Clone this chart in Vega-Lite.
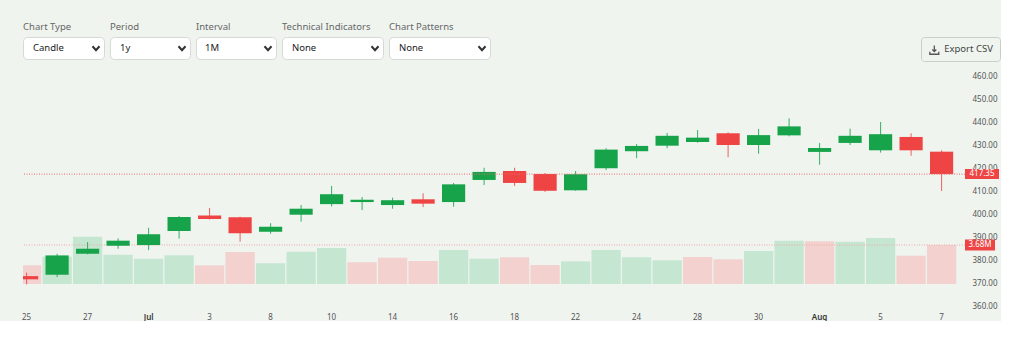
{
  "$schema": "https://vega.github.io/schema/vega-lite/v6.json",
  "background": "#eff4ef",
  "padding": {"left": 21, "top": 21, "right": 0, "bottom": 0},
  "spacing": 4,
  "vconcat": [
    {
      "spacing": 6,
      "bounds": "flush",
      "hconcat": [
        {
          "width": 81, "height": 22,
          "view": {"fill": "#ffffff", "stroke": "#d6dad6", "cornerRadius": 4},
          "title": {"text": "Chart Type"},
          "data": {"values": [{"value": "Candle"}]},
          "layer": [
            {"mark": {"type": "text", "align": "left", "baseline": "middle", "dx": 10, "fontSize": 9.5, "color": "#222"}, "encoding": {"text": {"field": "value"}, "x": {"value": 0}}},
            {"mark": {"type": "point", "shape": "M-2.3,-0.35L-1.6,0.45L-0.9,-0.35", "filled": false, "size": 100, "strokeWidth": 2, "color": "#333", "opacity": 1}, "encoding": {"x": {"value": "width"}}}
          ]
        },
        {
          "width": 80, "height": 22,
          "view": {"fill": "#ffffff", "stroke": "#d6dad6", "cornerRadius": 4},
          "title": {"text": "Period"},
          "data": {"values": [{"value": "1y"}]},
          "layer": [
            {"mark": {"type": "text", "align": "left", "baseline": "middle", "dx": 10, "fontSize": 9.5, "color": "#222"}, "encoding": {"text": {"field": "value"}, "x": {"value": 0}}},
            {"mark": {"type": "point", "shape": "M-2.3,-0.35L-1.6,0.45L-0.9,-0.35", "filled": false, "size": 100, "strokeWidth": 2, "color": "#333", "opacity": 1}, "encoding": {"x": {"value": "width"}}}
          ]
        },
        {
          "width": 80, "height": 22,
          "view": {"fill": "#ffffff", "stroke": "#d6dad6", "cornerRadius": 4},
          "title": {"text": "Interval"},
          "data": {"values": [{"value": "1M"}]},
          "layer": [
            {"mark": {"type": "text", "align": "left", "baseline": "middle", "dx": 9, "fontSize": 9.5, "color": "#222"}, "encoding": {"text": {"field": "value"}, "x": {"value": 0}}},
            {"mark": {"type": "point", "shape": "M-2.3,-0.35L-1.6,0.45L-0.9,-0.35", "filled": false, "size": 100, "strokeWidth": 2, "color": "#333", "opacity": 1}, "encoding": {"x": {"value": "width"}}}
          ]
        },
        {
          "width": 101, "height": 22,
          "view": {"fill": "#ffffff", "stroke": "#d6dad6", "cornerRadius": 4},
          "title": {"text": "Technical Indicators"},
          "data": {"values": [{"value": "None"}]},
          "layer": [
            {"mark": {"type": "text", "align": "left", "baseline": "middle", "dx": 10, "fontSize": 9.5, "color": "#222"}, "encoding": {"text": {"field": "value"}, "x": {"value": 0}}},
            {"mark": {"type": "point", "shape": "M-2.3,-0.35L-1.6,0.45L-0.9,-0.35", "filled": false, "size": 100, "strokeWidth": 2, "color": "#333", "opacity": 1}, "encoding": {"x": {"value": "width"}}}
          ]
        },
        {
          "width": 101, "height": 22,
          "view": {"fill": "#ffffff", "stroke": "#d6dad6", "cornerRadius": 4},
          "title": {"text": "Chart Patterns"},
          "data": {"values": [{"value": "None"}]},
          "layer": [
            {"mark": {"type": "text", "align": "left", "baseline": "middle", "dx": 10, "fontSize": 9.5, "color": "#222"}, "encoding": {"text": {"field": "value"}, "x": {"value": 0}}},
            {"mark": {"type": "point", "shape": "M-2.3,-0.35L-1.6,0.45L-0.9,-0.35", "filled": false, "size": 100, "strokeWidth": 2, "color": "#333", "opacity": 1}, "encoding": {"x": {"value": "width"}}}
          ]
        },
        {
          "width": 419, "height": 22,
          "data": {"values": [{}]},
          "mark": {"type": "point", "opacity": 0},
          "encoding": {}
        },
        {
          "width": 79, "height": 24,
          "view": {"fill": "#eff4ef", "stroke": "#c9cec9", "cornerRadius": 3},
          "data": {"values": [{"label": "Export CSV"}]},
          "layer": [
            {"mark": {"type": "text", "baseline": "middle", "dx": 8, "fontSize": 9.5, "color": "#444"}, "encoding": {"text": {"field": "label"}}},
            {"mark": {"type": "point", "shape": "M-5.24,-0.7L-5.24,0.5M-5.64,0.1L-5.24,0.5L-4.84,0.1M-6.14,0.55L-6.14,1.05L-4.34,1.05L-4.34,0.55", "filled": false, "size": 100, "strokeWidth": 1.3, "color": "#555", "opacity": 1}, "encoding": {}}
          ]
        }
      ]
    },
    {
      "width": 942,
      "height": 243,
      "data": {"values": [
        {"date": "2025-06-25", "open": 373.0, "high": 374.5, "low": 369.4, "close": 371.6, "volume": 1760000},
        {"date": "2025-06-26", "open": 373.6, "high": 382.7, "low": 372.6, "close": 382.0, "volume": 2580000},
        {"date": "2025-06-27", "open": 382.7, "high": 387.8, "low": 382.5, "close": 384.9, "volume": 4460000},
        {"date": "2025-06-30", "open": 386.2, "high": 389.4, "low": 384.9, "close": 388.4, "volume": 2760000},
        {"date": "2025-07-01", "open": 386.5, "high": 394.0, "low": 384.3, "close": 391.2, "volume": 2390000},
        {"date": "2025-07-02", "open": 392.6, "high": 399.1, "low": 389.3, "close": 398.7, "volume": 2710000},
        {"date": "2025-07-03", "open": 399.4, "high": 402.6, "low": 397.6, "close": 397.8, "volume": 1760000},
        {"date": "2025-07-07", "open": 398.6, "high": 398.8, "low": 388.0, "close": 391.6, "volume": 3020000},
        {"date": "2025-07-08", "open": 392.3, "high": 396.0, "low": 391.4, "close": 394.5, "volume": 1950000},
        {"date": "2025-07-09", "open": 399.7, "high": 403.9, "low": 396.7, "close": 402.3, "volume": 3050000},
        {"date": "2025-07-10", "open": 404.3, "high": 412.2, "low": 403.3, "close": 408.6, "volume": 3400000},
        {"date": "2025-07-11", "open": 405.2, "high": 407.4, "low": 401.7, "close": 406.2, "volume": 2050000},
        {"date": "2025-07-14", "open": 403.9, "high": 407.1, "low": 402.3, "close": 406.0, "volume": 2480000},
        {"date": "2025-07-15", "open": 406.4, "high": 409.0, "low": 403.0, "close": 404.5, "volume": 2170000},
        {"date": "2025-07-16", "open": 405.2, "high": 413.5, "low": 403.2, "close": 412.9, "volume": 3210000},
        {"date": "2025-07-17", "open": 414.8, "high": 420.1, "low": 412.6, "close": 418.3, "volume": 2390000},
        {"date": "2025-07-18", "open": 418.7, "high": 420.1, "low": 412.2, "close": 413.5, "volume": 2520000},
        {"date": "2025-07-21", "open": 417.4, "high": 417.8, "low": 409.6, "close": 410.1, "volume": 1790000},
        {"date": "2025-07-22", "open": 410.3, "high": 418.7, "low": 410.1, "close": 417.3, "volume": 2140000},
        {"date": "2025-07-23", "open": 419.9, "high": 428.6, "low": 419.1, "close": 428.0, "volume": 3210000},
        {"date": "2025-07-24", "open": 427.3, "high": 430.4, "low": 424.3, "close": 429.6, "volume": 2520000},
        {"date": "2025-07-25", "open": 429.7, "high": 435.2, "low": 428.6, "close": 434.0, "volume": 2240000},
        {"date": "2025-07-28", "open": 431.3, "high": 436.5, "low": 431.0, "close": 433.2, "volume": 2550000},
        {"date": "2025-07-29", "open": 435.1, "high": 435.5, "low": 424.7, "close": 430.0, "volume": 2330000},
        {"date": "2025-07-30", "open": 430.0, "high": 437.0, "low": 426.2, "close": 434.3, "volume": 3110000},
        {"date": "2025-07-31", "open": 434.2, "high": 441.6, "low": 433.8, "close": 438.1, "volume": 4090000},
        {"date": "2025-08-01", "open": 427.0, "high": 430.9, "low": 421.4, "close": 428.7, "volume": 4030000},
        {"date": "2025-08-04", "open": 430.9, "high": 437.1, "low": 430.0, "close": 434.0, "volume": 3990000},
        {"date": "2025-08-05", "open": 427.7, "high": 440.0, "low": 426.7, "close": 434.7, "volume": 4340000},
        {"date": "2025-08-06", "open": 433.5, "high": 435.1, "low": 425.3, "close": 427.7, "volume": 2670000},
        {"date": "2025-08-07", "open": 427.1, "high": 427.7, "low": 410.0, "close": 417.35, "volume": 3680000}
      ]},
      "resolve": {"scale": {"y": "independent"}, "axis": {"y": "independent"}},
      "layer": [
        {
          "layer": [
            {
              "transform": [{"window": [{"op": "lag", "field": "close", "as": "prevClose"}]}],
              "mark": {"type": "bar", "clip": true, "width": {"band": 0.96}},
              "encoding": {
                "x": {
                  "field": "date", "type": "ordinal",
                  "scale": {"range": [-11.65, 933.85], "paddingInner": 0, "paddingOuter": 0},
                  "axis": {
                    "values": ["2025-06-25", "2025-06-27", "2025-07-01", "2025-07-03", "2025-07-08", "2025-07-10", "2025-07-14", "2025-07-16", "2025-07-18", "2025-07-22", "2025-07-24", "2025-07-28", "2025-07-30", "2025-08-01", "2025-08-05", "2025-08-07"],
                    "labelExpr": "datum.value == '2025-07-01' ? 'Jul' : (datum.value == '2025-08-01' ? 'Aug' : '' + toNumber(slice(datum.value, 8, 10)))",
                    "labelAngle": 0,
                    "labelPadding": 4,
                    "tickSize": 0,
                    "labelOverlap": false,
                    "labelFontWeight": {"condition": {"test": "datum.value == '2025-07-01' || datum.value == '2025-08-01'", "value": 600}, "value": 400},
                    "labelColor": {"condition": {"test": "datum.value == '2025-07-01' || datum.value == '2025-08-01'", "value": "#333"}, "value": "#555"}
                  }
                },
                "y": {"field": "volume", "type": "quantitative", "scale": {"domain": [-2359000, 20570000], "nice": false, "zero": false}, "axis": null},
                "y2": {"datum": 0},
                "color": {"condition": {"test": "datum.prevClose != null && datum.close >= datum.prevClose", "value": "#c5e6d1"}, "value": "#f2d1cf"}
              }
            },
            {
              "data": {"values": [{"level": 3680000, "label": "3.68M"}]},
              "mark": {"type": "rule", "strokeDash": [1, 1.5], "color": "#f2a6a6", "strokeWidth": 1},
              "encoding": {"y": {"field": "level", "type": "quantitative", "axis": null}}
            },
            {
              "data": {"values": [{"level": 3680000, "label": "3.68M"}]},
              "mark": {"type": "point", "shape": "M0,-0.55L3.0,-0.55L3.0,0.55L0,0.55Z", "filled": true, "size": 400, "color": "#ef4444", "opacity": 1, "strokeWidth": 0},
              "encoding": {"x": {"value": "width"}, "y": {"field": "level", "type": "quantitative", "axis": null}}
            },
            {
              "data": {"values": [{"level": 3680000, "label": "3.68M"}]},
              "mark": {"type": "text", "align": "center", "baseline": "middle", "dx": 15, "fontSize": 8, "color": "#ffffff"},
              "encoding": {"x": {"value": "width"}, "y": {"field": "level", "type": "quantitative", "axis": null}, "text": {"field": "label"}}
            }
          ]
        },
        {
          "layer": [
            {
              "mark": {"type": "rule", "clip": true, "strokeWidth": 1, "opacity": 0.85},
              "encoding": {
                "x": {"field": "date", "type": "ordinal"},
                "y": {
                  "field": "low", "type": "quantitative",
                  "scale": {"domain": [358.7, 464.35], "nice": false, "zero": false},
                  "axis": {"orient": "right", "values": [360, 370, 380, 390, 400, 410, 420, 430, 440, 450, 460], "format": ".2f", "labelPadding": 7, "tickSize": 0, "labelOverlap": false}
                },
                "y2": {"field": "high"},
                "color": {"condition": {"test": "datum.close >= datum.open", "value": "#16a34a"}, "value": "#ef4444"}
              }
            },
            {
              "mark": {"type": "bar", "clip": true, "width": {"band": 0.76}},
              "encoding": {
                "x": {"field": "date", "type": "ordinal"},
                "y": {"field": "open", "type": "quantitative", "axis": {"orient": "right", "values": [360, 370, 380, 390, 400, 410, 420, 430, 440, 450, 460], "format": ".2f", "labelPadding": 7, "tickSize": 0, "labelOverlap": false}},
                "y2": {"field": "close"},
                "color": {"condition": {"test": "datum.close >= datum.open", "value": "#16a34a"}, "value": "#ef4444"}
              }
            },
            {
              "data": {"values": [{"level": 417.35, "label": "417.35"}]},
              "mark": {"type": "rule", "strokeDash": [1, 1.5], "color": "#e86a6a", "strokeWidth": 1},
              "encoding": {"y": {"field": "level", "type": "quantitative", "axis": {"orient": "right", "values": [360, 370, 380, 390, 400, 410, 420, 430, 440, 450, 460], "format": ".2f", "labelPadding": 7, "tickSize": 0, "labelOverlap": false}}}
            },
            {
              "data": {"values": [{"level": 417.35, "label": "417.35"}]},
              "mark": {"type": "point", "shape": "M0,-0.5L3.4,-0.5L3.4,0.5L0,0.5Z", "filled": true, "size": 400, "color": "#ef4444", "opacity": 1, "strokeWidth": 0},
              "encoding": {"x": {"value": "width"}, "y": {"field": "level", "type": "quantitative", "axis": {"orient": "right", "values": [360, 370, 380, 390, 400, 410, 420, 430, 440, 450, 460], "format": ".2f", "labelPadding": 7, "tickSize": 0, "labelOverlap": false}}}
            },
            {
              "data": {"values": [{"level": 417.35, "label": "417.35"}]},
              "mark": {"type": "text", "align": "center", "baseline": "middle", "dx": 17, "fontSize": 8, "color": "#ffffff"},
              "encoding": {"x": {"value": "width"}, "y": {"field": "level", "type": "quantitative", "axis": {"orient": "right", "values": [360, 370, 380, 390, 400, 410, 420, 430, 440, 450, 460], "format": ".2f", "labelPadding": 7, "tickSize": 0, "labelOverlap": false}}, "text": {"field": "label"}}
            }
          ]
        }
      ]
    }
  ],
  "config": {
    "font": "Noto Sans",
    "view": {"stroke": null},
    "axis": {"title": null, "domain": false, "ticks": false, "grid": false, "labelFont": "Noto Sans", "labelColor": "#555", "labelFontSize": 8, "labelOverlap": false},
    "title": {"anchor": "start", "fontSize": 9.5, "fontWeight": "normal", "color": "#666", "offset": 6, "font": "Noto Sans", "baseline": "alphabetic"},
    "text": {"font": "Noto Sans"}
  }
}
